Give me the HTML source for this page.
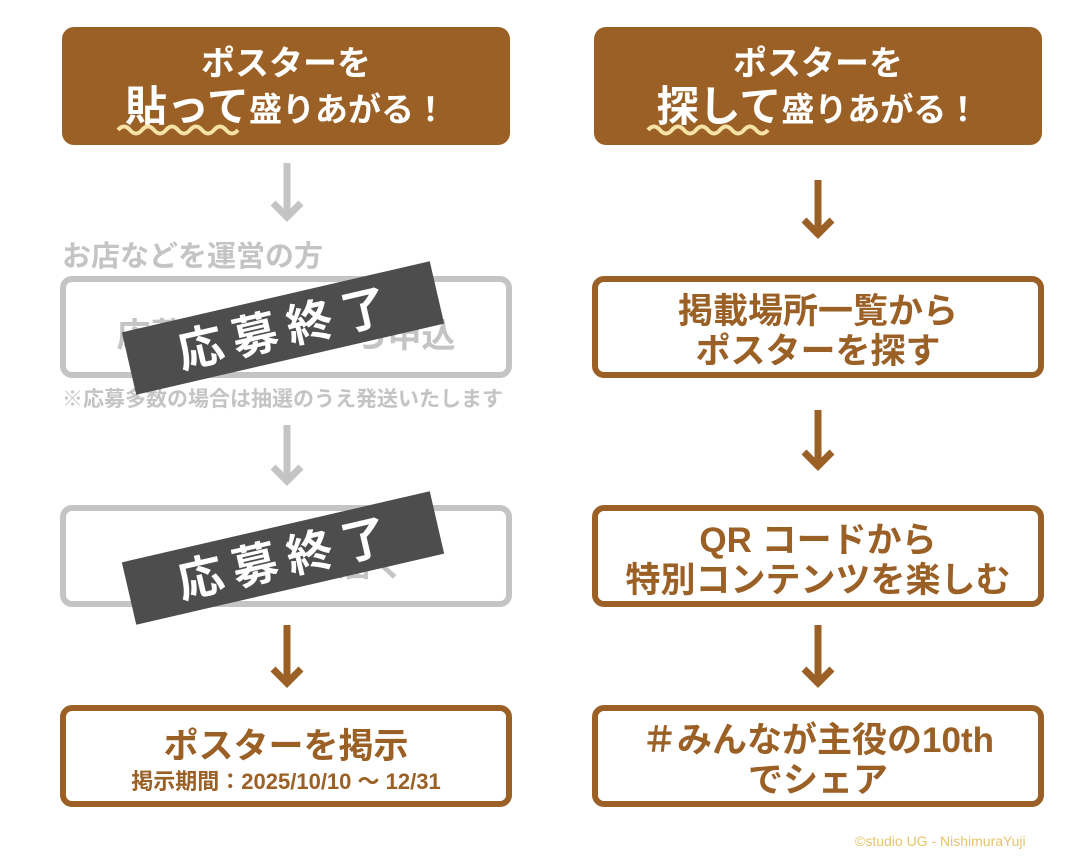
<!DOCTYPE html>
<html><head><meta charset="utf-8"><style>
body{margin:0;width:1080px;height:864px;background:#fff;position:relative;overflow:hidden;font-family:"Liberation Sans","Noto Sans CJK JP",sans-serif;font-weight:bold}
.a{position:absolute;box-sizing:border-box}
.hdr{background:#9a6025;border-radius:12px;color:#fff;text-align:center}
.box{border:6px solid #9a6025;border-radius:12px;color:#9a6025;text-align:center;display:flex;flex-direction:column;justify-content:center;align-items:center;padding-top:10px}
.g{border-color:#c4c4c4;color:#c4c4c4}
svg{position:absolute;left:0;top:0}
</style></head><body>
<div class="a hdr" style="left:62px;top:27px;width:448px;height:118px">
 <div style="font-size:34px;position:absolute;top:15px;width:100%;line-height:44px">ポスターを</div>
 <div style="position:absolute;top:55px;width:100%;font-size:33px;line-height:50px"><span style="font-size:42px">貼って</span>盛りあがる！</div>
</div>
<div class="a hdr" style="left:594px;top:27px;width:448px;height:118px">
 <div style="font-size:34px;position:absolute;top:15px;width:100%;line-height:44px">ポスターを</div>
 <div style="position:absolute;top:55px;width:100%;font-size:33px;line-height:50px"><span style="font-size:42px">探して</span>盛りあがる！</div>
</div>
<div class="a" style="left:62px;top:239px;font-size:29px;line-height:36px;color:#c4c4c4">お店などを運営の方</div>
<div class="a box g" style="left:60px;top:276px;width:452px;height:102px;font-size:34px">応募フォームから申込</div>
<div class="a" style="left:62px;top:387px;font-size:21px;line-height:26px;color:#c4c4c4">※応募多数の場合は抽選のうえ発送いたします</div>
<div class="a box g" style="left:60px;top:505px;width:452px;height:102px;font-size:34px">ポスターが届く</div>
<div class="a box" style="left:60px;top:705px;width:452px;height:102px"><div style="font-size:35px;line-height:42px">ポスターを掲示</div><div style="font-size:22px;line-height:28px">掲示期間：2025/10/10 ～ 12/31</div></div>
<div class="a box" style="left:592px;top:276px;width:452px;height:102px;font-size:35px;line-height:40px">掲載場所一覧から<br>ポスターを探す</div>
<div class="a box" style="left:592px;top:505px;width:452px;height:102px;font-size:35px;line-height:40px">QR コードから<br>特別コンテンツを楽しむ</div>
<div class="a box" style="left:592px;top:705px;width:452px;height:102px;font-size:35px;line-height:40px">＃みんなが主役の10th<br>でシェア</div>
<div class="a" style="left:855px;top:833px;font-size:14px;font-weight:normal;color:#e6c46a">©studio UG - NishimuraYuji</div>
<svg width="1080" height="864">
 <g fill="none" stroke-width="7">
  <path d="M118 130q6-7 12 0t12 0t12 0t12 0t12 0t12 0t12 0t12 0t12 0t12 0" stroke="#f7e3a6" stroke-width="4"/>
  <path d="M648 130q6-7 12 0t12 0t12 0t12 0t12 0t12 0t12 0t12 0t12 0t12 0" stroke="#f7e3a6" stroke-width="4"/>
  <path d="M287 163v56M273 203l14 14 14-14" stroke="#c4c4c4"/>
  <path d="M287 425v58M273 467l14 14 14-14" stroke="#c4c4c4"/>
  <path d="M287 625v60M273 669l14 14 14-14" stroke="#9a6025"/>
  <path d="M818 180v56M804 220l14 14 14-14" stroke="#9a6025"/>
  <path d="M818 410v58M804 452l14 14 14-14" stroke="#9a6025"/>
  <path d="M818 625v60M804 669l14 14 14-14" stroke="#9a6025"/>
 </g>
 <g transform="translate(283 328) rotate(-13)">
  <rect x="-158" y="-32" width="316" height="64" fill="#4d4d4d"/>
  <text x="4" y="17" text-anchor="middle" fill="#fff" font-size="46" font-weight="bold" letter-spacing="10" font-family="Liberation Sans,Noto Sans CJK JP,sans-serif">応募終了</text>
 </g>
 <g transform="translate(283 558) rotate(-13)">
  <rect x="-158" y="-32" width="316" height="64" fill="#4d4d4d"/>
  <text x="4" y="17" text-anchor="middle" fill="#fff" font-size="46" font-weight="bold" letter-spacing="10" font-family="Liberation Sans,Noto Sans CJK JP,sans-serif">応募終了</text>
 </g>
</svg>
</body></html>
